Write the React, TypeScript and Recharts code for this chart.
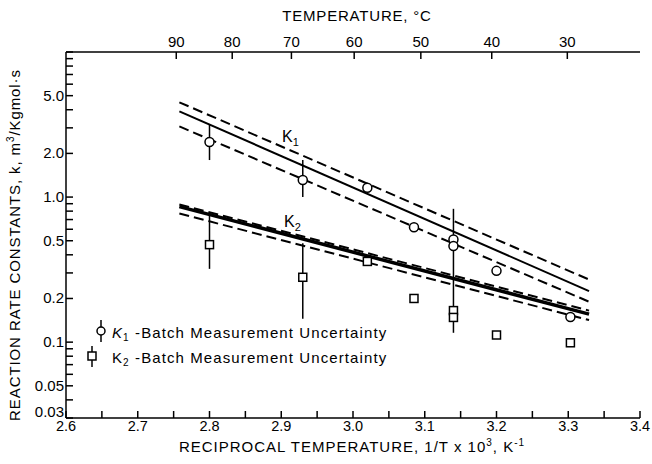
import React from 'react';
import { ComposedChart, Line, Scatter, XAxis, YAxis } from 'recharts';

// reciprocal temperature axis, 1/T x 10^3
const xTicks = [2.6, 2.65, 2.7, 2.75, 2.8, 2.85, 2.9, 2.95, 3.0, 3.05, 3.1, 3.15, 3.2, 3.25, 3.3, 3.35, 3.4];
const xLabelTicks = [2.6, 2.7, 2.8, 2.9, 3.0, 3.1, 3.2, 3.3, 3.4];
// top axis, degrees C
const tempTicks = [90, 80, 70, 60, 50, 40, 30];
// log y axis
const yTicks = [0.03, 0.04, 0.05, 0.06, 0.07, 0.08, 0.09, 0.1, 0.2, 0.3, 0.4, 0.5, 0.6, 0.7, 0.8, 0.9, 1, 2, 3, 4, 5, 6, 7, 8, 9, 10];
const yLabelTicks = [0.03, 0.05, 0.1, 0.2, 0.5, 1, 2, 5];
const yLabels = ['0.03', '0.05', '0.1', '0.2', '0.5', '1.0', '2.0', '5.0'];

// K1 batch measurements (circles)
const k1X = [2.8, 2.93, 3.02, 3.085, 3.14, 3.14, 3.2, 3.303];
const k1Y = [2.4, 1.31, 1.16, 0.62, 0.51, 0.46, 0.31, 0.149];
// K2 batch measurements (squares)
const k2X = [2.8, 2.93, 3.02, 3.085, 3.14, 3.14, 3.2, 3.303];
const k2Y = [0.47, 0.28, 0.36, 0.2, 0.165, 0.148, 0.112, 0.099];

// uncertainty bars: x, low, high
const barX = [2.8, 2.93, 2.8, 2.93, 3.14];
const barLo = [1.8, 1.0, 0.32, 0.145, 0.116];
const barHi = [3.15, 1.8, 0.745, 0.48, 0.83];

// fitted lines (end points)
const fitX = [2.758, 3.329];
const k1Fit = [3.9, 0.225];
const k1Upper = [4.5, 0.27];
const k1Lower = [3.07, 0.19];
const k2Fit = [0.86, 0.156];
const k2Upper = [0.89, 0.165];
const k2Lower = [0.77, 0.142];

const toPts = (xs: number[], ys: number[]) => xs.map((x, i) => ({ x, y: ys[i] }));

const k1Pts = toPts(k1X, k1Y);
const k2Pts = toPts(k2X, k2Y);
const bars = barX.map((x, i) => [{ x, y: barLo[i] }, { x, y: barHi[i] }]);

const font = "'Liberation Sans', Arial, sans-serif";
const near = (a: number, b: number) => Math.abs(a - b) < 1e-6;

const BottomTick = (p: any) => {
  const v = p.payload.value;
  const lab = xLabelTicks.some((t) => near(t, v));
  return (
    <g>
      <line x1={p.x} x2={p.x} y1={p.y} y2={p.y - 7} stroke="#000" strokeWidth={1.5} />
      {lab && (
        <text x={p.x} y={p.y + 13} textAnchor="middle" fontSize={14.5} fontFamily={font} fill="#000">
          {v.toFixed(1)}
        </text>
      )}
    </g>
  );
};

const TopTick = (p: any) => {
  const v = p.payload.value;
  const c = Math.round(1000 / v - 273.15);
  return (
    <g>
      <line x1={p.x} x2={p.x} y1={p.y} y2={p.y + 7} stroke="#000" strokeWidth={1.5} />
      <text x={p.x} y={p.y - 5} textAnchor="middle" fontSize={15} fontFamily={font} fill="#000">
        {c}
      </text>
    </g>
  );
};

const LeftTick = (p: any) => {
  const v = p.payload.value;
  const i = yLabelTicks.findIndex((t) => near(t, v));
  // lowest label sits just above the corner, as in the original
  const dy = i === 0 ? -1 : 5;
  return (
    <g>
      <line x1={p.x} x2={p.x + 7} y1={p.y} y2={p.y} stroke="#000" strokeWidth={1.5} />
      {i >= 0 && (
        <text x={p.x - 2} y={p.y + dy} textAnchor="end" fontSize={15} fontFamily={font} fill="#000">
          {yLabels[i]}
        </text>
      )}
    </g>
  );
};

const RightTick = (p: any) => (
  <line x1={p.x} x2={p.x - 7} y1={p.y} y2={p.y} stroke="#000" strokeWidth={1.5} />
);

const OpenCircle = (p: any) => (
  <circle cx={p.cx} cy={p.cy} r={4.5} fill="#fff" stroke="#000" strokeWidth={1.5} />
);
const OpenSquare = (p: any) => (
  <rect x={p.cx - 4} y={p.cy - 4} width={8} height={8} fill="#fff" stroke="#000" strokeWidth={1.5} />
);

const axisLine = { stroke: '#000', strokeWidth: 1.5 };

export default function App() {
  return (
    <div style={{ position: 'absolute', left: 0, top: 0, width: 652, height: 464, background: '#fff' }}>
      <ComposedChart width={652} height={464} margin={{ top: 22, right: 12, bottom: 16, left: 6 }}>
        <XAxis
          xAxisId="b"
          type="number"
          dataKey="x"
          domain={[2.6, 3.4]}
          ticks={xTicks}
          interval={0}
          allowDataOverflow
          height={30}
          tickSize={0}
          tickMargin={0}
          tickLine={false}
          axisLine={axisLine}
          tick={BottomTick}
        />
        <XAxis
          xAxisId="top"
          orientation="top"
          type="number"
          dataKey="x"
          domain={[2.6, 3.4]}
          ticks={tempTicks.map((c) => 1000 / (c + 273.15))}
          interval={0}
          allowDataOverflow
          height={30}
          tickSize={0}
          tickMargin={0}
          tickLine={false}
          axisLine={axisLine}
          tick={TopTick}
        />
        <YAxis
          yAxisId="l"
          type="number"
          scale="log"
          domain={[0.03, 10]}
          ticks={yTicks}
          interval={0}
          allowDataOverflow
          width={60}
          tickSize={0}
          tickMargin={0}
          tickLine={false}
          axisLine={axisLine}
          tick={LeftTick}
        />
        <YAxis
          yAxisId="r"
          orientation="right"
          type="number"
          scale="log"
          domain={[0.03, 10]}
          ticks={yTicks}
          interval={0}
          allowDataOverflow
          width={0}
          tickSize={0}
          tickMargin={0}
          tickLine={false}
          axisLine={axisLine}
          tick={RightTick}
        />

        <Line xAxisId="b" yAxisId="l" data={toPts(fitX, k1Fit)} dataKey="y" stroke="#000" strokeWidth={2} dot={false} isAnimationActive={false} />
        <Line xAxisId="b" yAxisId="l" data={toPts(fitX, k1Upper)} dataKey="y" stroke="#000" strokeWidth={2} strokeDasharray="10 5" dot={false} isAnimationActive={false} />
        <Line xAxisId="b" yAxisId="l" data={toPts(fitX, k1Lower)} dataKey="y" stroke="#000" strokeWidth={2} strokeDasharray="10 5" dot={false} isAnimationActive={false} />
        <Line xAxisId="b" yAxisId="l" data={toPts(fitX, k2Fit)} dataKey="y" stroke="#000" strokeWidth={3.5} dot={false} isAnimationActive={false} />
        <Line xAxisId="b" yAxisId="l" data={toPts(fitX, k2Upper)} dataKey="y" stroke="#000" strokeWidth={2} strokeDasharray="10 5" dot={false} isAnimationActive={false} />
        <Line xAxisId="b" yAxisId="l" data={toPts(fitX, k2Lower)} dataKey="y" stroke="#000" strokeWidth={2} strokeDasharray="10 5" dot={false} isAnimationActive={false} />

        {bars.map((d, i) => (
          <Line key={'bar' + i} xAxisId="b" yAxisId="l" data={d} dataKey="y" stroke="#000" strokeWidth={1.5} dot={false} isAnimationActive={false} />
        ))}

        <Scatter xAxisId="b" yAxisId="l" data={k1Pts} dataKey="y" shape={OpenCircle} isAnimationActive={false} />
        <Scatter xAxisId="b" yAxisId="l" data={k2Pts} dataKey="y" shape={OpenSquare} isAnimationActive={false} />
      </ComposedChart>

      <svg width={652} height={464} style={{ position: 'absolute', left: 0, top: 0, pointerEvents: 'none' }} fontFamily={font} fill="#000">
        <text x={357} y={21} textAnchor="middle" fontSize={15} letterSpacing={0.8}>TEMPERATURE, °C</text>
        <text x={352} y={452} textAnchor="middle" fontSize={15} letterSpacing={1}>
          RECIPROCAL TEMPERATURE,  1/T x 10<tspan dy={-6} fontSize={10}>3</tspan>
          <tspan dy={6}>, K</tspan><tspan dy={-6} fontSize={10}>-1</tspan>
        </text>
        <text transform="translate(20,245) rotate(-90)" textAnchor="middle" fontSize={15} letterSpacing={0.9}>
          REACTION RATE CONSTANTS,  k, m<tspan dy={-6} fontSize={10}>3</tspan>
          <tspan dy={6}>/Kgmol·s</tspan>
        </text>

        <text x={282} y={142} fontSize={16}>K<tspan dy={4} fontSize={11}>1</tspan></text>
        <text x={284} y={227} fontSize={16}>K<tspan dy={4} fontSize={11}>2</tspan></text>

        {/* legend */}
        <line x1={101} x2={101} y1={320} y2={342} stroke="#000" strokeWidth={1.5} />
        <circle cx={101} cy={331} r={4} fill="#fff" stroke="#000" strokeWidth={1.5} />
        <text x={112} y={338} fontSize={15} letterSpacing={1.1}>
          <tspan fontStyle="italic">K</tspan><tspan dy={3} fontSize={10}>1</tspan>
          <tspan dy={-3}> -Batch Measurement  Uncertainty</tspan>
        </text>
        <line x1={92} x2={92} y1={346} y2={367} stroke="#000" strokeWidth={1.5} />
        <rect x={88} y={352} width={8} height={8} fill="#fff" stroke="#000" strokeWidth={1.5} />
        <text x={112} y={363} fontSize={15} letterSpacing={1.1}>
          K<tspan dy={3} fontSize={10}>2</tspan>
          <tspan dy={-3}> -Batch Measurement  Uncertainty</tspan>
        </text>
      </svg>
    </div>
  );
}
